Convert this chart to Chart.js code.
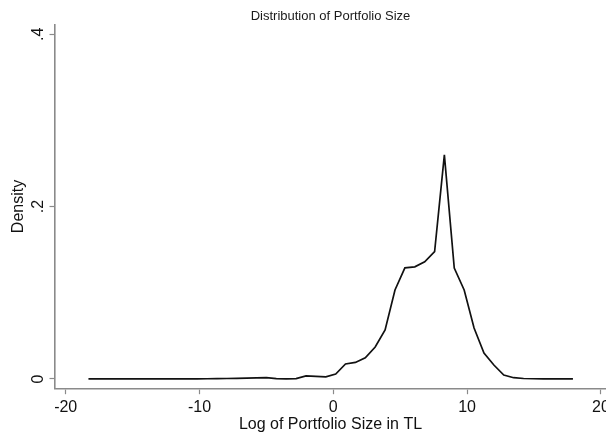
<!DOCTYPE html>
<html>
<head>
<meta charset="utf-8">
<script src="https://cdn.jsdelivr.net/npm/chart.js@4/dist/chart.umd.min.js"></script>
<style>
  html, body { margin: 0; padding: 0; background: #ffffff; overflow: hidden; }
  #wrap { width: 606px; height: 436px; }
</style>
</head>
<body>
<div id="wrap"><canvas id="c" width="606" height="436"></canvas></div>
<script>
// Kernel density grid (log of portfolio size) and estimated density
const logSize = [
  -18.30, -17.56, -16.82, -16.08, -15.34, -14.61, -13.87, -13.13, -12.39, -11.65,
  -10.91, -10.17,  -9.43,  -8.69,  -7.95,  -7.22,  -6.48,  -5.74,  -5.00,  -4.26,
   -3.52,  -2.78,  -2.04,  -1.30,  -0.56,   0.18,   0.91,   1.65,   2.39,   3.13,
    3.87,   4.61,   5.35,   6.09,   6.83,   7.57,   8.30,   9.04,   9.78,  10.52,
   11.26,  12.00,  12.74,  13.48,  14.22,  14.96,  15.69,  16.43,  17.17,  17.91
];
const density = [
  0.0001, 0.0001, 0.0001, 0.0001, 0.0001, 0.0001, 0.0001, 0.0001, 0.0001, 0.0001,
  0.0002, 0.0002, 0.0003, 0.0004, 0.0006, 0.0008, 0.0010, 0.0013, 0.0016, 0.0005,
  0.0002, 0.0004, 0.0037, 0.0031, 0.0025, 0.0058, 0.0174, 0.0192, 0.0247, 0.0371,
  0.0569, 0.1033, 0.1290, 0.1302, 0.1360, 0.1477, 0.2600, 0.1288, 0.1033, 0.0592,
  0.0302, 0.0162, 0.0046, 0.0015, 0.0006, 0.0003, 0.0001, 0.0001, 0.0001, 0.0001
];
const xTickValues = [-20, -10, 0, 10, 20];
const yTickValues = [0, 0.2, 0.4];
const yTickLabels = ['0', '.2', '.4'];

const chartTitle = 'Distribution of Portfolio Size';
const xTitle = 'Log of Portfolio Size in TL';
const yTitle = 'Density';

const FONT = "'Liberation Sans', Arial, sans-serif";
const AXIS_GRAY = '#8a8a8a';

const points = logSize.map((x, i) => ({ x: x, y: density[i] }));

// Title centred over the plotting region
const plotTitle = {
  id: 'plotTitle',
  afterDraw(chart) {
    const { ctx, chartArea } = chart;
    ctx.save();
    ctx.font = '13px ' + FONT;
    ctx.fillStyle = '#1a1a1a';
    ctx.textAlign = 'center';
    ctx.textBaseline = 'middle';
    ctx.fillText(chartTitle, (chartArea.left + chartArea.right) / 2, 16);
    ctx.restore();
  }
};

new Chart(document.getElementById('c'), {
  type: 'line',
  data: {
    datasets: [{
      data: points,
      borderColor: '#111111',
      borderWidth: 1.7,
      pointRadius: 0,
      tension: 0,
      fill: false
    }]
  },
  options: {
    responsive: false,
    animation: false,
    layout: { padding: { top: 24.3, left: 0, right: 0, bottom: 0 } },
    plugins: {
      legend: { display: false },
      tooltip: { enabled: false },
      title: { display: false }
    },
    scales: {
      x: {
        type: 'linear',
        min: -20.8,
        max: 20.38,
        afterBuildTicks: s => { s.ticks = xTickValues.map(v => ({ value: v })); },
        afterFit: s => { s.height = 47.3; s.paddingLeft = 0; s.paddingRight = 0; },
        grid: { drawOnChartArea: false, drawTicks: true, tickLength: 5.5, tickColor: AXIS_GRAY, tickWidth: 1.2 },
        border: { display: true, color: AXIS_GRAY, width: 1.6 },
        ticks: {
          autoSkip: false,
          maxRotation: 0,
          padding: 4,
          color: '#111111',
          font: { family: FONT, size: 16 },
          callback: v => String(v)
        },
        title: {
          display: true,
          text: xTitle,
          color: '#111111',
          font: { family: FONT, size: 16 },
          padding: { top: 0, bottom: 1.5 }
        }
      },
      y: {
        type: 'linear',
        min: -0.01126,
        max: 0.4116,
        afterBuildTicks: s => { s.ticks = yTickValues.map(v => ({ value: v })); },
        afterFit: s => { s.width = 55; s.paddingTop = 0; s.paddingBottom = 0; },
        grid: { drawOnChartArea: false, drawTicks: true, tickLength: 5.5, tickColor: AXIS_GRAY, tickWidth: 1.2 },
        border: { display: true, color: AXIS_GRAY, width: 1.6 },
        ticks: {
          autoSkip: false,
          minRotation: 90,
          maxRotation: 90,
          crossAlign: 'center',
          padding: 4,
          color: '#111111',
          font: { family: FONT, size: 16 },
          callback: v => {
            const k = yTickValues.indexOf(v);
            return k >= 0 ? yTickLabels[k] : '';
          }
        },
        title: {
          display: true,
          text: yTitle,
          color: '#111111',
          font: { family: FONT, size: 16 },
          padding: { top: 8.5, bottom: 0 }
        }
      }
    }
  },
  plugins: [plotTitle]
});
</script>
</body>
</html>
